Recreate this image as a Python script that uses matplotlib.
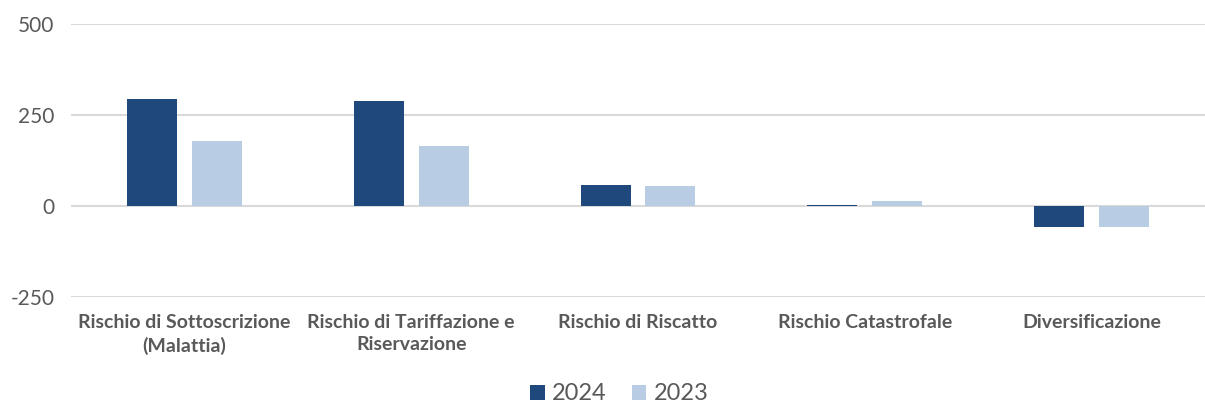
import matplotlib
matplotlib.use("Agg")
import matplotlib.pyplot as plt
import numpy as np

categories = ["Rischio di Sottoscrizione\n(Malattia)", "Rischio di Tariffazione e\nRiservazione",
              "Rischio di Riscatto", "Rischio Catastrofale", "Diversificazione"]
series_names = ["2024", "2023"]
values_2024 = [294, 288, 58, 2, -57]
values_2023 = [179, 165, 55, 14, -58]
yticks = [-250, 0, 250, 500]

colors = ["#1f497d", "#b8cce4"]
grey = "#595959"

plt.rcParams["font.family"] = ["Lato", "DejaVu Sans"]

fig = plt.figure(figsize=(12.05, 4.05), dpi=100)
ax = fig.add_axes([71 / 1205, 1 - 297 / 405, 1 - 71 / 1205, (297 - 24) / 405])

x = np.arange(len(categories))
w = 0.22
ax.bar(x - 0.143, values_2024, w, color=colors[0], label=series_names[0], zorder=3)
ax.bar(x + 0.143, values_2023, w, color=colors[1], label=series_names[1], zorder=3)

ax.set_xlim(-0.5, len(categories) - 0.5)
ax.set_ylim(-250, 500)
ax.set_yticks(yticks)
ax.set_yticklabels([str(v) for v in yticks], fontsize=15, color=grey)
ax.yaxis.grid(True, color="#d9d9d9", linewidth=1.5, zorder=0)
ax.tick_params(axis="y", length=0, pad=12)
ax.tick_params(axis="x", length=0, pad=12)
ax.set_xticks(x)
ax.set_xticklabels(categories, fontsize=14, fontweight="bold", color=grey, linespacing=1.4)
for s in ax.spines.values():
    s.set_visible(False)

leg = fig.legend(loc="center", bbox_to_anchor=(0.514, 1 - 394 / 405), ncol=2, frameon=False,
                 fontsize=17, handlelength=0.6, handleheight=0.6, handletextpad=0.3, columnspacing=1.1)
for t in leg.get_texts():
    t.set_color(grey)

fig.savefig("out.png", dpi=100)
